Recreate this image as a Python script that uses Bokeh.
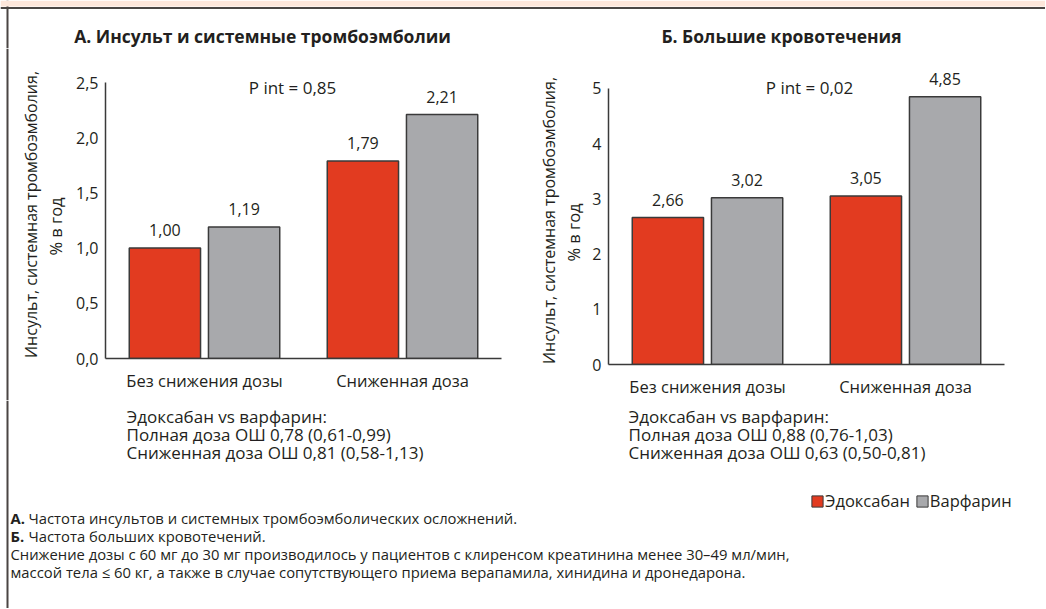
from math import pi
from bokeh.plotting import figure
from bokeh.models import (FactorRange, Range1d, Label, ColumnDataSource, FixedTicker,
                          Legend, LegendItem, CustomJSTickFormatter, Span, BoxAnnotation)
from bokeh.transform import dodge
from bokeh.layouts import column, row
from bokeh.core.properties import value
from bokeh.embed import file_html
from bokeh.resources import INLINE

# ---------------- data ----------------
categories = ["Без снижения дозы", "Сниженная доза"]
series_names = ["Эдоксабан", "Варфарин"]
stroke_edoxaban = [1.00, 1.79]
stroke_warfarin = [1.19, 2.21]
bleed_edoxaban = [2.66, 3.05]
bleed_warfarin = [3.02, 4.85]
stroke_ticks = [0.0, 0.5, 1.0, 1.5, 2.0, 2.5]
bleed_ticks = [0, 1, 2, 3, 4, 5]

title_a = "А. Инсульт и системные тромбоэмболии"
title_b = "Б. Большие кровотечения"
pint_a = "P int = 0,85"
pint_b = "P int = 0,02"
ylabel_1 = "Инсульт, системная тромбоэмболия,"
ylabel_2 = "% в год"
notes_a = ["Эдоксабан vs варфарин:", "Полная доза ОШ 0,78 (0,61-0,99)",
           "Сниженная доза ОШ 0,81 (0,58-1,13)"]
notes_b = ["Эдоксабан vs варфарин:", "Полная доза ОШ 0,88 (0,76-1,03)",
           "Сниженная доза ОШ 0,63 (0,50-0,81)"]
foot_bold = ["А.", "Б.", "", ""]
foot_text = ["Частота инсультов и системных тромбоэмболических осложнений.",
             "Частота больших кровотечений.",
             "Снижение дозы с 60 мг до 30 мг производилось у пациентов с клиренсом креатинина менее 30–49 мл/мин,",
             "массой тела ≤ 60 кг, а также в случае сопутствующего приема верапамила, хинидина и дронедарона."]

RED = "#e23b20"
GRAY = "#a8a9ac"
EDGE = "#3a3a3a"
TXT = "#231f20"
FRAME = "#4a4543"
PEACH = "#fde6da"
FONT = "Open Sans"

W = 1045


def fmt2(v):
    return f"{v:.2f}".replace(".", ",")


def lab(p, x, y, text, size=16, bold=False, align="left", angle=0.0, font=FONT):
    p.add_layout(Label(x=x, y=y, x_units="screen", y_units="screen", text=text,
                       text_font=font, text_font_size=f"{size}px",
                       text_font_style="bold" if bold else "normal",
                       text_color=TXT, text_align=align, text_baseline="middle",
                       angle=angle))


def text_panel(w, h, left_border=True):
    p = figure(width=w, height=h, output_backend="svg", toolbar_location=None,
               x_range=Range1d(0, w), y_range=Range1d(0, h),
               x_axis_type=None, y_axis_type=None, min_border=0)
    p.outline_line_color = None
    p.xgrid.grid_line_color = None
    p.ygrid.grid_line_color = None
    if left_border:
        p.add_layout(Span(location=7, dimension="height", line_color=FRAME, line_width=2))
    return p


def make_chart(width, height, mb, ed, wa, ytop, ymax, ticks, decimals, pint, ppos):
    p = figure(width=width, height=height, output_backend="svg", toolbar_location=None,
               x_range=FactorRange(factors=categories, range_padding=0),
               y_range=Range1d(0, ytop),
               min_border_left=mb[0], min_border_right=mb[1],
               min_border_top=mb[2], min_border_bottom=mb[3])
    p.outline_line_color = None
    p.xgrid.grid_line_color = None
    p.ygrid.grid_line_color = None

    src = ColumnDataSource(dict(cat=categories, ed=ed, wa=wa,
                                ed_lab=[fmt2(v) for v in ed],
                                wa_lab=[fmt2(v) for v in wa]))
    p.vbar(x=dodge("cat", -0.2, range=p.x_range), top="ed", width=0.36, source=src,
           fill_color=RED, line_color=EDGE, line_width=1.5)
    p.vbar(x=dodge("cat", 0.2, range=p.x_range), top="wa", width=0.36, source=src,
           fill_color=GRAY, line_color=EDGE, line_width=1.5)
    for col, off in (("ed", -0.2), ("wa", 0.2)):
        p.text(x=dodge("cat", off, range=p.x_range), y=col, text=col + "_lab", source=src,
               text_align="center", text_baseline="bottom", y_offset=-12,
               text_font=value(FONT), text_font_size="16px", text_color=TXT)

    ya = p.yaxis[0]
    ya.ticker = FixedTicker(ticks=ticks)
    ya.bounds = (0, ymax)
    ya.formatter = CustomJSTickFormatter(code=f"return tick.toFixed({decimals}).replace('.', ',')")
    ya.major_tick_line_color = None
    ya.minor_tick_line_color = None
    ya.major_tick_out = 0
    ya.major_tick_in = 0
    ya.minor_tick_out = 0
    ya.axis_line_color = EDGE
    ya.axis_line_width = 1.5
    ya.major_label_standoff = 7
    ya.major_label_text_font = FONT
    ya.major_label_text_font_size = "16px"
    ya.major_label_text_color = TXT

    xa = p.xaxis[0]
    xa.major_tick_line_color = None
    xa.minor_tick_line_color = None
    xa.major_tick_out = 0
    xa.major_tick_in = 0
    xa.minor_tick_out = 0
    xa.axis_line_color = EDGE
    xa.axis_line_width = 1.5
    xa.major_label_standoff = 10
    xa.major_label_text_font = FONT
    xa.major_label_text_font_size = "16.5px"
    xa.major_label_text_color = TXT

    lab(p, ppos[0], ppos[1], pint, size=17, align="center")
    return p


# ---------------- titles row (y 0..48) ----------------
TOP_H = 48
pt = text_panel(W, TOP_H, left_border=True)
pt.add_layout(BoxAnnotation(left=0, right=W, bottom=TOP_H - 6, top=TOP_H,
                            fill_color=PEACH, fill_alpha=1, line_color=None))
pt.add_layout(Span(location=TOP_H - 7.5, dimension="width", line_color=FRAME, line_width=2))
lab(pt, 262, TOP_H - 35, title_a, size=17.5, bold=True, align="center")
lab(pt, 781, TOP_H - 35, title_b, size=17.5, bold=True, align="center")

# ---------------- chart row (y 48..400) ----------------
ROW_Y0, ROW_Y1 = 48, 400
ROW_H = ROW_Y1 - ROW_Y0
# chart A: frame x 105..501, y 48..358 ; 2.5 at y=82
pa = make_chart(452, ROW_H, (37, 19, 0, ROW_Y1 - 358), stroke_edoxaban, stroke_warfarin,
                2.5 * (358 - ROW_Y0) / (358 - 82), 2.5, stroke_ticks, 1, pint_a, (187, 271))
# chart B: frame x 608..1004, y 48..365 ; 5 at y=88
pb = make_chart(461, ROW_H, (24, 41, 0, ROW_Y1 - 365), bleed_edoxaban, bleed_warfarin,
                5 * (365 - ROW_Y0) / (365 - 88), 5, bleed_ticks, 0, pint_b, (201, 277))

ya_a = text_panel(68, ROW_H, left_border=True)
lab(ya_a, 30, ROW_Y1 - 214, ylabel_1, size=16, align="center", angle=pi / 2)
lab(ya_a, 55, ROW_Y1 - 226, ylabel_2, size=16.5, align="center", angle=pi / 2)
ya_b = text_panel(64, ROW_H, left_border=False)
lab(ya_b, 28, ROW_Y1 - 220, ylabel_1, size=16, align="center", angle=pi / 2)
lab(ya_b, 53, ROW_Y1 - 232, ylabel_2, size=16.5, align="center", angle=pi / 2)

# ---------------- notes / footnote panel (y 400..608) ----------------
BOT_H = 208
pn = text_panel(W, BOT_H, left_border=True)
for i, t in enumerate(notes_a):
    lab(pn, 126, 608 - 416 - 18 * i, t, size=17)
for i, t in enumerate(notes_b):
    lab(pn, 628, 608 - 416 - 18 * i, t, size=17)

r_ed = pn.vbar(x=[0], top=[0], width=1, fill_color=RED, line_color=EDGE, line_width=1,
               visible=False)
r_wa = pn.vbar(x=[0], top=[0], width=1, fill_color=GRAY, line_color=EDGE, line_width=1,
               visible=False)
legend = Legend(items=[LegendItem(label=series_names[0], renderers=[r_ed]),
                       LegendItem(label=series_names[1], renderers=[r_wa])],
                orientation="horizontal", location=(810, 608 - 504 - 8),
                glyph_width=14, glyph_height=14, label_height=16,
                label_text_font=FONT, label_text_font_size="16.5px", label_text_color=TXT,
                label_standoff=1, spacing=5, padding=0, margin=0,
                border_line_color=None, background_fill_alpha=0)
pn.add_layout(legend)

for i, (b, t) in enumerate(zip(foot_bold, foot_text)):
    y = 608 - 517 - 18 * i
    if b:
        lab(pn, 10, y, b, size=14.8, bold=True)
        lab(pn, 28, y, t, size=14.8)
    else:
        lab(pn, 10, y, t, size=14.8)

# each figure wrapped in its own column so that the row does not align their frames
chart_row = row(column(ya_a), column(pa), column(ya_b), column(pb))
layout = column(pt, chart_row, pn)

open("out.html", "w").write(file_html(layout, INLINE))
